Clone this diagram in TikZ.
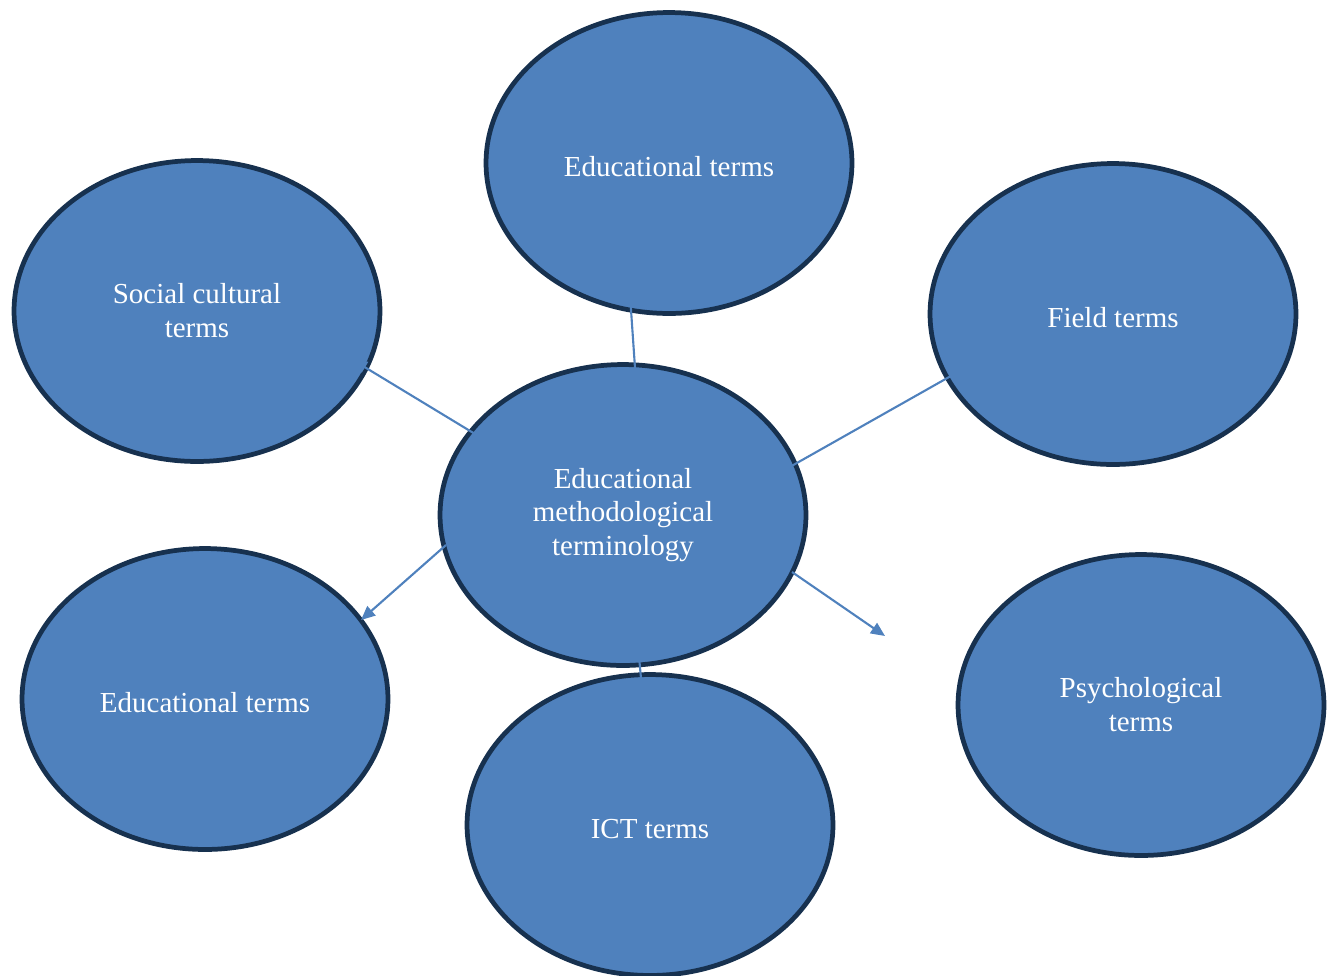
\documentclass[tikz,border=0pt]{standalone}
\usepackage{fontspec}
\setmainfont{Liberation Serif}
\usetikzlibrary{shapes.geometric,arrows.meta}
\definecolor{termblue}{HTML}{4F81BD}
\definecolor{termborder}{HTML}{17314F}
\tikzstyle{termvertex}=[ellipse,fill=termblue,draw=termborder,line width=2.7pt,minimum width=7.32cm,minimum height=6.02cm,inner sep=0pt,text=white,align=center,font=\fontsize{16.5}{19.3}\selectfont,execute at begin node={\rule{0pt}{15.8pt}}]
\tikzstyle{edge} = [draw,termblue,line width=1.2pt,-{Triangle[length=8pt,width=7pt]}]

\begin{document}
\begin{tikzpicture}[x=0.02cm,y=-0.02cm]
\useasboundingbox (0,0) rectangle (1328,975);

    % term ellipses
    \foreach \pos/\name/\label in {{(669,163)/edutop/Educational terms}, {(197,311)/social/{Social cultural\\terms}}, {(1113,314)/field/Field terms}, {(205,699)/edubot/Educational terms}, {(650,825)/ict/ICT terms}, {(1141,705)/psych/{Psychological\\terms}}, {(623,515)/main/{Educational\\methodological\\terminology}}}
        \node[termvertex] (\name) at \pos {\label};

    % arrow ends
    \foreach \pos/\name in {{(637,397)/s1}, {(628,266)/t1}, {(480,437)/s2}, {(353,360)/t2}, {(788,468)/s3}, {(965,368)/t3}, {(446,545)/s4}, {(361,620)/t4}, {(635,613)/s5}, {(643,700)/t5}, {(792,572)/s6}, {(885,636)/t6}}
        \path \pos coordinate (\name);

    \foreach \source/ \dest in {s1/t1, s2/t2, s3/t3, s4/t4, s5/t5, s6/t6}
        \path[edge] (\source) -- (\dest);

\end{tikzpicture}
\end{document}
